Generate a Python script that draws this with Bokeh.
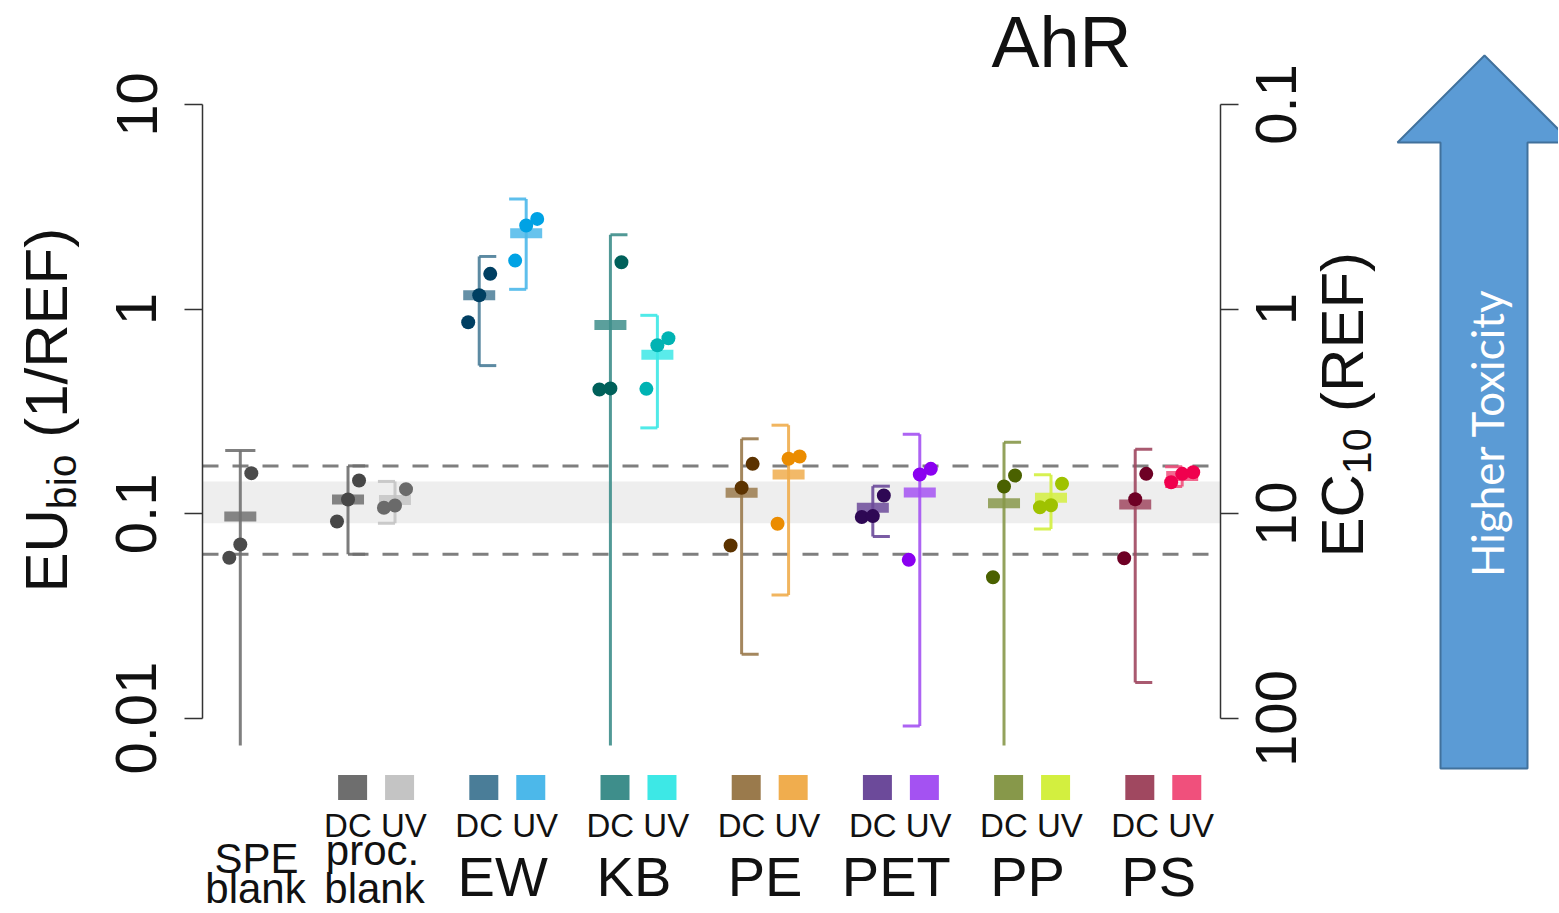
import math
import numpy as np
from bokeh.plotting import figure
from bokeh.models import (Range1d, LogScale, LinearScale, LogAxis, FixedTicker,
                          CustomJSTickFormatter, Span, BoxAnnotation, Label)
from bokeh.layouts import row, column
from bokeh.embed import file_html
from bokeh.resources import INLINE
from bokeh.core.properties import value

# ---------------- data ----------------
groups = ["SPE blank", "proc. blank", "EW", "KB", "PE", "PET", "PP", "PS"]
sample_group = [0, 1, 1, 2, 2, 3, 3, 4, 4, 5, 5, 6, 6, 7, 7]
sample_kind = ["single", "DC", "UV", "DC", "UV", "DC", "UV", "DC", "UV",
               "DC", "UV", "DC", "UV", "DC", "UV"]
mean_eu = [0.097, 0.1175, 0.117, 1.17, 2.35, 0.838, 0.598, 0.1266, 0.1556,
           0.107, 0.127, 0.1127, 0.1197, 0.111, 0.153]
ci_eu = [0.107, 0.054, 0.027, 0.64, 1.10, 1.474, 0.335, 0.106, 0.1155,
         0.0295, 0.1178, 0.111, 0.0355, 0.096, 0.017]
rep_a = [0.061, 0.0917, 0.107, 0.863, 1.727, 0.405, 0.408, 0.070, 0.0894,
         0.0965, 0.0596, 0.049, 0.1077, 0.0607, 0.1427]
rep_b = [0.0708, 0.1175, 0.1098, 1.17, 2.562, 0.41, 0.666, 0.134, 0.1857,
         0.0975, 0.1556, 0.136, 0.1102, 0.1178, 0.1568]
rep_c = [0.158, 0.1455, 0.132, 1.488, 2.761, 1.695, 0.721, 0.1755, 0.1905,
         0.1229, 0.1659, 0.1539, 0.1402, 0.1568, 0.1597]
point_colors = ["#4b4b4b", "#474747", "#6a6a6a", "#003f62", "#00a2e4",
                "#00605a", "#00b3b3", "#5c3300", "#eb8c00", "#2e0854",
                "#8a00f0", "#4a6100", "#9fc200", "#6e0025", "#f0004e"]
light_colors = ["#717171", "#6e6e6e", "#c4c4c4", "#4a7d98", "#4cb8ea",
                "#3e8e8b", "#3de8e6", "#9a7a4c", "#f0ad4e", "#6c4a9a",
                "#a452f2", "#87984a", "#d3ef3f", "#a04860", "#f0507c"]
left_ticks = [0.01, 0.1, 1, 10]
right_ticks = [0.1, 1, 10, 100]
right_tick_labels = ["0.1", "1", "10", "100"]

# ---------------- geometry helpers (page pixels -> data) ----------------
DEC = (718 - 104) / 3.0          # pixels per decade on the log axis
def v_at(ypx):
    return 10 ** (-2 + (718 - ypx) / DEC)

X0, GAP = 239.8, 131.2
def xd(xpx):
    return (xpx - X0) / GAP

PAIR_OFF = 0.179
JIT = 0.084
CAP = 0.13
FONT = "Liberation Sans"
MID = 0.34   # em offset between alphabetic baseline and 'middle' anchor
TICKF = 58

xs = []
for g, k in zip(sample_group, sample_kind):
    xs.append(g + (0 if k == "single" else (-PAIR_OFF if k == "DC" else PAIR_OFF)))

y_lo, y_hi = v_at(745), v_at(0)

# layout columns (page px): left title 0-86, main 86-1240, right 1240-1558
LW, MW, RW = 86, 1154, 318
TOPH, BOTH = 774, 138

p = figure(width=MW, height=TOPH,
           x_range=Range1d(xd(202), xd(1220)),
           y_range=Range1d(y_lo, y_hi), y_axis_type="log",
           x_axis_location=None, toolbar_location=None, output_backend="svg",
           min_border_left=202 - LW, min_border_right=LW + MW - 1220,
           min_border_top=0, min_border_bottom=TOPH - 745)
p.outline_line_color = None
p.grid.visible = False
p.background_fill_color = "white"
p.border_fill_color = "white"

# reference band (proc. blank UV) and dashed limits (proc. blank DC)
p.add_layout(BoxAnnotation(bottom=mean_eu[2] - ci_eu[2], top=mean_eu[2] + ci_eu[2],
                           fill_color="#eeeeee", fill_alpha=1.0, line_color=None,
                           level="underlay"))
for loc in (mean_eu[1] - ci_eu[1], mean_eu[1] + ci_eu[1]):
    p.add_layout(Span(location=loc, dimension="width", line_color="#7f7f7f",
                      line_width=3, line_dash="16 14", level="underlay"))

# error bars
vx, vlo, vhi, vcol = [], [], [], []
cx0, cx1, cy, ccol = [], [], [], []
for i, x in enumerate(xs):
    m, c = mean_eu[i], ci_eu[i]
    hi, lo = m + c, m - c
    vx.append(x); vlo.append(lo if lo > 0 else y_lo / 10.0); vhi.append(hi)
    vcol.append(light_colors[i])
    k = sample_kind[i]
    if k == "single":
        a, b = x - 0.115, x + 0.115
    elif k == "DC":
        a, b = x, x + CAP
    else:
        a, b = x - CAP, x
    for yy in ([hi, lo] if lo > 0 else [hi]):
        cx0.append(a); cx1.append(b); cy.append(yy); ccol.append(light_colors[i])

p.segment(x0=vx, y0=vlo, x1=vx, y1=vhi, line_color=vcol, line_width=3, line_alpha=0.9)
p.segment(x0=cx0, y0=cy, x1=cx1, y1=cy, line_color=ccol, line_width=3, line_alpha=0.9)

# mean bars
p.rect(x=xs, y=mean_eu, width=0.244, height=10, height_units="screen",
       fill_color=light_colors, fill_alpha=0.85, line_color=None)

# replicate points, spread by rank
px, py, pc = [], [], []
for i, x in enumerate(xs):
    vals = [rep_a[i], rep_b[i], rep_c[i]]
    ranks = np.argsort(np.argsort(vals))
    for v, r in zip(vals, ranks):
        px.append(x + (r - 1) * JIT); py.append(v); pc.append(point_colors[i])
p.scatter(x=px, y=py, size=14, fill_color=pc, line_color=None)

def style_axis(ax):
    ax.minor_tick_line_color = None
    ax.major_tick_out = 18
    ax.major_tick_in = 0
    ax.axis_line_width = 1.5
    ax.major_tick_line_width = 1.5
    ax.axis_line_color = "#333333"
    ax.major_tick_line_color = "#333333"

lax = p.yaxis[0]
lax.ticker = FixedTicker(ticks=left_ticks)
lax.formatter = CustomJSTickFormatter(code="return tick.toString();")
lax.bounds = (left_ticks[0], left_ticks[-1])
style_axis(lax)
lax.major_label_orientation = "vertical"
lax.major_label_text_font = FONT
lax.major_label_text_font_size = f"{TICKF}px"
lax.major_label_text_color = "#111111"
lax.major_label_standoff = 28

# right axis (EC10 = 1/EU): line + ticks here, labels drawn in the right panel
EC_RANGE_TOP = (1.0 / y_lo, 1.0 / y_hi)
p.extra_y_ranges = {"ec": Range1d(*EC_RANGE_TOP)}
p.extra_y_scales = {"ec": LogScale()}
rax = LogAxis(y_range_name="ec", ticker=FixedTicker(ticks=right_ticks),
              formatter=CustomJSTickFormatter(code="return '';"),
              bounds=(right_ticks[0], right_ticks[-1]))
style_axis(rax)
rax.major_label_text_font_size = "0px"
rax.major_label_standoff = 0
p.add_layout(rax, "right")

# title inside the (tall) frame
p.add_layout(Label(x=xd(1061), y=v_at(66 - MID * 72), text="AhR", text_font=FONT,
                   text_font_size="72px", text_align="center", text_baseline="middle",
                   text_color="#111111"))

def side_fig(x0, w, h):
    f = figure(width=w, height=h, x_range=Range1d(x0, x0 + w), y_range=Range1d(h, 0),
               x_axis_location=None, y_axis_location=None, toolbar_location=None,
               output_backend="svg", min_border_left=0, min_border_right=0,
               min_border_top=0, min_border_bottom=0)
    f.outline_line_color = None
    f.grid.visible = False
    return f

def rot_text(fig, base_x, start_y, text, size, **kw):
    fig.text(x=[base_x - MID * size], y=[start_y], text=[text], angle=math.pi / 2,
             text_font=value(FONT), text_font_size=value(f"{size}px"),
             text_align="left", text_baseline="middle", text_color="#111111", **kw)

F, S = 60, 41
# ---------------- left axis title: EU_bio (1/REF) ----------------
pl = side_fig(0, LW, TOPH)
y0 = 592
rot_text(pl, 66, y0, "EU", F)
y1 = y0 - 1.389 * F
rot_text(pl, 75, y1, "bio", S)
y2 = y1 - 1.334 * S - 0.278 * F
rot_text(pl, 66, y2, "(1/REF)", F)

# ---------------- right panel: EC10 tick labels, title, arrow ----------------
pa = side_fig(LW + MW, RW, TOPH)
pa.extra_y_ranges = {"ec": Range1d(1.0 / v_at(TOPH), 1.0 / v_at(0))}
pa.extra_y_scales = {"ec": LogScale()}
pa.text(x=[1295 - MID * TICKF] * len(right_ticks), y=right_ticks, y_range_name="ec",
        text=right_tick_labels, angle=math.pi / 2, text_font=value(FONT),
        text_font_size=value(f"{TICKF}px"), text_align="center",
        text_baseline="middle", text_color="#111111")
r0 = 557
rot_text(pa, 1362, r0, "EC", F)
r1 = r0 - 1.389 * F
rot_text(pa, 1370, r1, "10", S)
r2 = r1 - 1.112 * S - 0.278 * F
rot_text(pa, 1362, r2, "(REF)", F)
pa.patch(x=[1440, 1440, 1397, 1484, 1571, 1527, 1527],
         y=[768, 142, 142, 55, 142, 142, 768],
         fill_color="#5b9bd5", line_color="#41719c", line_width=2)
pa.text(x=[1486], y=[432], text=["Higher Toxicity"], angle=math.pi / 2,
        text_font=value("Lato"), text_font_size=value("44px"), text_align="center",
        text_baseline="middle", text_color="white")

# ---------------- bottom category panel ----------------
pb = figure(width=MW, height=BOTH, x_range=p.x_range, y_range=Range1d(TOPH + BOTH, TOPH),
            x_axis_location=None, y_axis_location=None, toolbar_location=None,
            output_backend="svg", min_border_left=202 - LW, min_border_right=LW + MW - 1220,
            min_border_top=0, min_border_bottom=0)
pb.outline_line_color = None
pb.grid.visible = False

sq_x = [x + 0.035 for x, k in zip(xs, sample_kind) if k != "single"]
sq_c = [c for c, k in zip(light_colors, sample_kind) if k != "single"]
pb.rect(x=sq_x, y=[787] * len(sq_x), width=0.221, height=25,
        fill_color=sq_c, line_color=None)

pair_groups = sorted(set(g for g, k in zip(sample_group, sample_kind) if k != "single"))
pb.text(x=[g + 0.03 for g in pair_groups], y=[836 - MID * 33] * len(pair_groups),
        text=["DC UV"] * len(pair_groups), text_font=value(FONT),
        text_font_size=value("33px"), text_align="center",
        text_baseline="middle", text_color="#111111")
big = list(range(2, len(groups)))
pb.text(x=big, y=[895 - MID * 56] * len(big), text=[groups[g] for g in big],
        text_font=value(FONT), text_font_size=value("56px"), text_align="center",
        text_baseline="middle", text_color="#111111")
two_line = [(xd(256), 872, groups[0].split(" ")[0]), (xd(255), 902, groups[0].split(" ")[1]),
            (xd(372), 864, groups[1].split(" ")[0]), (xd(374), 902, groups[1].split(" ")[1])]
pb.text(x=[t[0] for t in two_line], y=[t[1] - MID * 42 for t in two_line],
        text=[t[2] for t in two_line], text_font=value(FONT),
        text_font_size=value("42px"), text_align="center",
        text_baseline="middle", text_color="#111111")

layout = row(pl, column(p, pb), pa)
open("out.html", "w").write(file_html(layout, INLINE))
